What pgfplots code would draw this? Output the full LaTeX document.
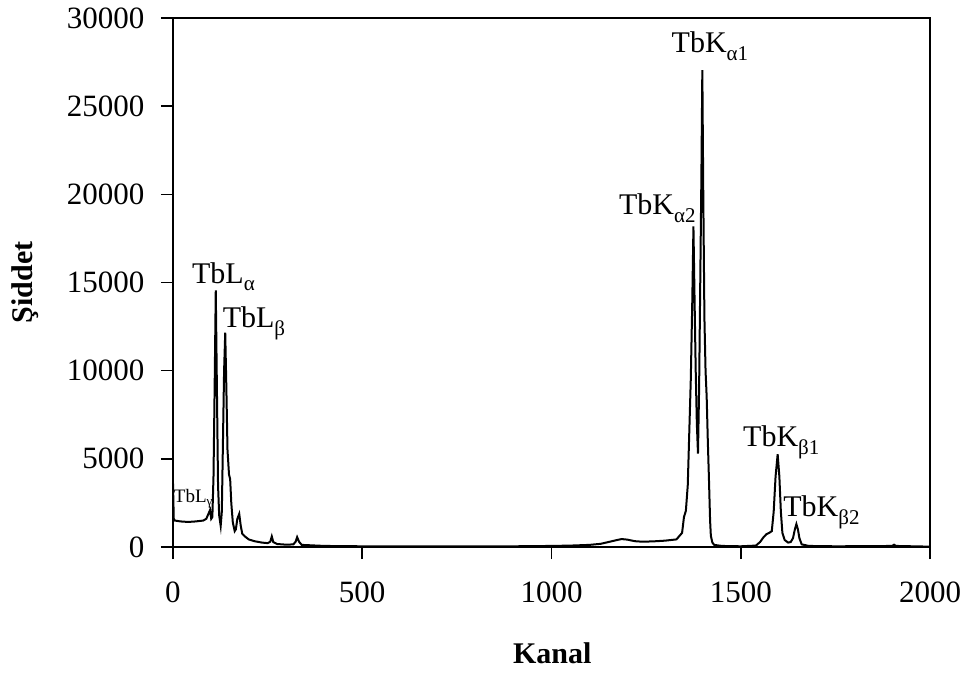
\documentclass[border=0pt]{standalone}
\usepackage{fontspec}
\setmainfont{Liberation Serif}
\usepackage{pgfplots}
\pgfplotsset{compat=1.18}

\def\fs{\fontsize{30bp}{36bp}\selectfont}
\def\sub#1{\raisebox{-0.55ex}{\fontsize{21bp}{21bp}\selectfont #1}}

\begin{document}
\begin{tikzpicture}
\begin{axis}[
    name=ax,
    scale only axis,
    width=757bp, height=529bp,
    xmin=0, xmax=2000,
    ymin=0, ymax=30000,
    xtick={0,500,...,2000},
    ytick={0,5000,...,30000},
    xtick pos=left, ytick pos=left,
    tick align=outside,
    major tick length=12bp,
    axis line style={line width=1.6bp},
    tick style={line width=1.6bp, black},
    scaled ticks=false,
    /pgf/number format/1000 sep={},
    /pgf/number format/assume math mode=true,
    tick label style={font=\fontsize{31bp}{36bp}\selectfont},
    yticklabel style={xshift=-13bp},
    xticklabel style={yshift=-19bp},
    xlabel={\textbf{Kanal}},
    ylabel={\textbf{Şiddet}},
    label style={font=\fs},
    xlabel style={at={(axis description cs:0.501,-0.221)}, anchor=base},
    ylabel style={at={(axis description cs:-0.186,0.5)}, anchor=base, rotate=0},
    clip=false,
]

\addplot [black, line width=2bp] coordinates {
    (0,3600) (2,1600) (5,1500) (20,1450) (40,1420) (60,1450) (80,1500)
    (88,1600) (94,1900) (98,2100) (101,1600) (104,1700) (107,4000)
    (110,9000) (113,14550) (116,9000) (119,3500) (122,1800) (126,1200)
    (129,2000) (132,6000) (135,10000) (138,12150) (141,9000) (144,5500)
    (148,4100) (151,3850) (154,2500) (158,1400) (163,900) (166,1000)
    (170,1600) (175,1880) (179,1200) (183,750) (190,600) (200,430)
    (215,330) (235,250) (250,220) (257,300) (261,600) (265,280)
    (275,170) (300,130) (318,150) (324,300) (328,560) (333,300)
    (340,120) (400,60) (500,40) (600,30) (700,30) (800,40) (900,40)
    (1000,60) (1050,80) (1100,120) (1130,180) (1150,280) (1170,380)
    (1185,450) (1200,420) (1220,330) (1240,300) (1270,320) (1300,360)
    (1330,430) (1345,800) (1350,1700) (1355,2050) (1360,3500)
    (1364,6500) (1368,9500) (1372,14000) (1375,18180) (1378,14000)
    (1381,10000) (1384,7000) (1387,5300) (1390,9000) (1393,15000)
    (1396,21000) (1398.5,27050) (1401,20000) (1404,13000) (1407,10000)
    (1410,8500) (1413,6000) (1416,3850) (1419,1500) (1421,640)
    (1425,250) (1430,120) (1450,60) (1500,40) (1540,80) (1551,280)
    (1560,550) (1568,730) (1575,800) (1582,900) (1587,2000) (1592,4000)
    (1597.5,5260) (1602,4000) (1606,2000) (1610,800) (1616,400)
    (1625,250) (1632,280) (1638,500) (1643,1000) (1647,1300)
    (1651,1000) (1655,500) (1661,150) (1680,60) (1750,40) (1850,50)
    (1900,60) (1905,130) (1910,60) (2000,20)
};

\node[anchor=base west, inner sep=0pt, font=\fs] at (axis cs:50,14970) {TbL\sub{α}};
\node[anchor=base west, inner sep=0pt, font=\fs] at (axis cs:131,12420) {TbL\sub{β}};
\node[anchor=base west, inner sep=0pt, font=\fontsize{19bp}{20bp}\selectfont] at (axis cs:2,2550) {TbL\raisebox{-0.4ex}{\fontsize{13bp}{13bp}\selectfont γ}};
\node[anchor=base west, inner sep=0pt, font=\fs] at (axis cs:1317,28020) {TbK\sub{α1}};
\node[anchor=base west, inner sep=0pt, font=\fs] at (axis cs:1178,18830) {TbK\sub{α2}};
\node[anchor=base west, inner sep=0pt, font=\fs] at (axis cs:1506,5690) {TbK\sub{β1}};
\node[anchor=base west, inner sep=0pt, font=\fs] at (axis cs:1612,1720) {TbK\sub{β2}};

\end{axis}
\pgfresetboundingbox
\path[use as bounding box] ([shift={(-173bp,-126bp)}]ax.south west) rectangle ([shift={(38bp,18bp)}]ax.north east);
\end{tikzpicture}
\end{document}
